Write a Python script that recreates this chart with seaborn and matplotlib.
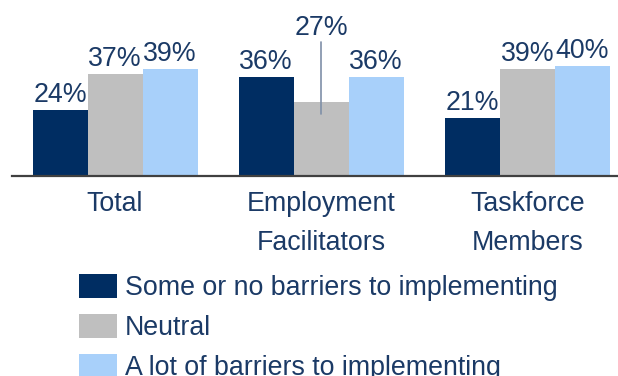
import pandas as pd
import matplotlib
matplotlib.use("Agg")
import matplotlib.pyplot as plt
import seaborn as sns
from matplotlib.patches import Patch

# data
groups = ["Total", "Employment\nFacilitators", "Taskforce\nMembers"]
series = ["Some or no barriers to implementing", "Neutral", "A lot of barriers to implementing"]
some_or_no = [24, 36, 21]
neutral = [37, 27, 39]
a_lot = [39, 36, 40]

colors = ["#002D62", "#BFBFBF", "#A8D0FA"]
text_color = "#1B3A66"
FS = 19.3

df = pd.DataFrame({
    "group": groups * 3,
    "series": [series[0]] * 3 + [series[1]] * 3 + [series[2]] * 3,
    "value": some_or_no + neutral + a_lot,
})

sns.set_style("white")
plt.rcParams["font.family"] = ["Liberation Sans", "DejaVu Sans"]

fig = plt.figure(figsize=(6.18, 3.76), dpi=100)
ax = fig.add_axes([12 / 618, 200 / 376, 1 - 12 / 618, 176 / 376])

sns.barplot(data=df, x="group", y="value", hue="series", hue_order=series,
            order=groups, palette=colors, width=0.8, saturation=1,
            legend=False, ax=ax, edgecolor="none")

ax.set_xlim(-0.5, 2.44)
ax.set_ylim(0, 64)
ax.set_xlabel("")
ax.set_ylabel("")
ax.set_yticks([])
for side in ["top", "right", "left"]:
    ax.spines[side].set_visible(False)
ax.spines["bottom"].set_color("#404040")
ax.spines["bottom"].set_linewidth(1.6)
ax.tick_params(axis="x", length=0, pad=10.5, labelsize=FS, labelcolor=text_color)
for lbl in ax.get_xticklabels():
    lbl.set_linespacing(1.68)

# value labels
for s_idx, cont in enumerate(ax.containers):
    for g_idx, bar in enumerate(cont):
        val = bar.get_height()
        xc = bar.get_x() + bar.get_width() / 2
        if s_idx == 1 and g_idx == 1:
            # leader line for the short neutral bar
            ax.plot([xc, xc], [val - 4.5, 48.7], color="#7F8FA8", lw=1.2)
            ax.annotate(f"{val:.0f}%", (xc, 51.3), ha="center", va="baseline",
                        fontsize=FS, color=text_color)
        else:
            ax.annotate(f"{val:.0f}%", (xc, val), xytext=(0, 5.6),
                        textcoords="offset points", ha="center", va="baseline",
                        fontsize=FS, color=text_color)

handles = [Patch(facecolor=c, edgecolor="none", label=s) for c, s in zip(colors, series)]
leg = fig.legend(handles=handles, loc="upper left", bbox_to_anchor=(79 / 618, 1 - 274 / 376),
                 frameon=False, fontsize=FS, handlelength=1.42, handleheight=1.0,
                 handletextpad=0.3, labelspacing=0.47, borderpad=0, borderaxespad=0)
for t in leg.get_texts():
    t.set_color(text_color)

fig.savefig("out.png", dpi=100)
